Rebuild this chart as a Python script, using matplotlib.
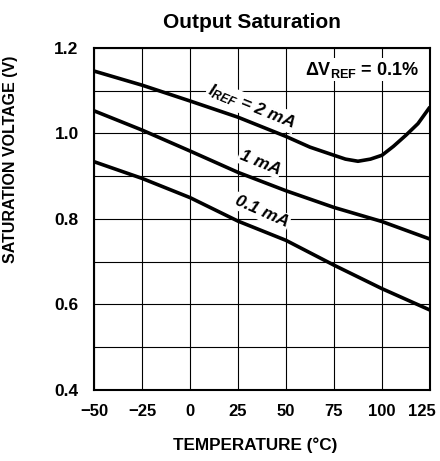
import matplotlib.pyplot as plt
import numpy as np
from matplotlib.transforms import ScaledTranslation

plt.rcParams["font.family"] = ["Liberation Sans", "DejaVu Sans"]
plt.rcParams["mathtext.fontset"] = "custom"
plt.rcParams["mathtext.rm"] = "Liberation Sans:bold"
plt.rcParams["mathtext.it"] = "Liberation Sans:italic:bold"

# saturation voltage vs. temperature, read per reference current
temp_2ma = [-50, -25, 0, 25, 50, 62.5, 75, 81, 87.5, 94, 100, 106, 112.5, 118.75, 125]
vsat_2ma = [1.146, 1.113, 1.076, 1.038, 0.993, 0.968, 0.949, 0.940, 0.935, 0.940,
            0.949, 0.970, 0.996, 1.023, 1.062]

temp_1ma = [-50, -25, 0, 25, 50, 75, 100, 125]
vsat_1ma = [1.053, 1.008, 0.959, 0.909, 0.866, 0.827, 0.794, 0.753]

temp_01ma = [-50, -25, 0, 25, 50, 75, 100, 125]
vsat_01ma = [0.934, 0.895, 0.850, 0.795, 0.750, 0.692, 0.637, 0.587]

x_ticks = [-50, -25, 0, 25, 50, 75, 100, 125]
x_tick_labels = ["\u221250", "\u221225", "0", "25", "50", "75", "100", "125"]
y_ticks = [0.4, 0.6, 0.8, 1.0, 1.2]

fig = plt.figure(figsize=(4.4, 4.61), dpi=100)
ax = fig.add_axes([0.2136, 0.154, 0.7636, 0.742])

for t, v in [(temp_2ma, vsat_2ma), (temp_1ma, vsat_1ma), (temp_01ma, vsat_01ma)]:
    ax.plot(t, v, color="black", linewidth=2.6, solid_capstyle="butt",
            solid_joinstyle="round", zorder=3)

ax.set_xlim(-50, 125)
ax.set_ylim(0.4, 1.2)
ax.set_xticks(x_ticks)
ax.set_xticklabels(x_tick_labels)
ax.set_yticks(y_ticks)
ax.set_yticklabels([f"{v:.1f}" for v in y_ticks])
ax.set_yticks(np.arange(0.5, 1.2, 0.2), minor=True)

ax.grid(which="both", color="black", linewidth=0.8)
ax.tick_params(which="both", length=0)
ax.tick_params(axis="x", pad=10, labelsize=12)
ax.tick_params(axis="y", pad=11, labelsize=12.5)
for lbl in ax.get_xticklabels() + ax.get_yticklabels():
    lbl.set_fontweight("bold")
# pull the last temperature label inside the figure edge
last = ax.get_xticklabels()[-1]
last.set_transform(last.get_transform() + ScaledTranslation(-8 / 100, 0, fig.dpi_scale_trans))
for s in ax.spines.values():
    s.set_linewidth(1.5)

ax.set_xlabel("TEMPERATURE (\u00b0C)", fontsize=12.3, fontweight="bold")
ax.xaxis.set_label_coords(0.48, -0.14)
ax.set_ylabel("SATURATION VOLTAGE (V)", fontsize=11.5, fontweight="bold")
ax.yaxis.set_label_coords(-0.225, 0.675)

fig.text(0.573, 0.952, "Output Saturation", fontsize=15, fontweight="bold",
         ha="center", va="center")

box = dict(facecolor="white", edgecolor="none", pad=1.0)
ax.text(32, 1.063, r"$I_{REF}$ = 2 mA", rotation=-22, fontsize=12.5,
        style="italic", fontweight="bold", ha="center", va="center", bbox=box, zorder=4)
ax.text(36.5, 0.932, "1 mA", rotation=-22, fontsize=12.5,
        style="italic", fontweight="bold", ha="center", va="center", bbox=box, zorder=4)
ax.text(37.3, 0.817, "0.1 mA", rotation=-24, fontsize=12.5,
        style="italic", fontweight="bold", ha="center", va="center", bbox=box, zorder=4)
ax.text(89.5, 1.149, r"$\Delta$V$_{\mathrm{REF}}$ = 0.1%", fontsize=13,
        fontweight="bold", ha="center", va="center", bbox=box, zorder=4)

fig.savefig("out.png", dpi=100, facecolor="white")
